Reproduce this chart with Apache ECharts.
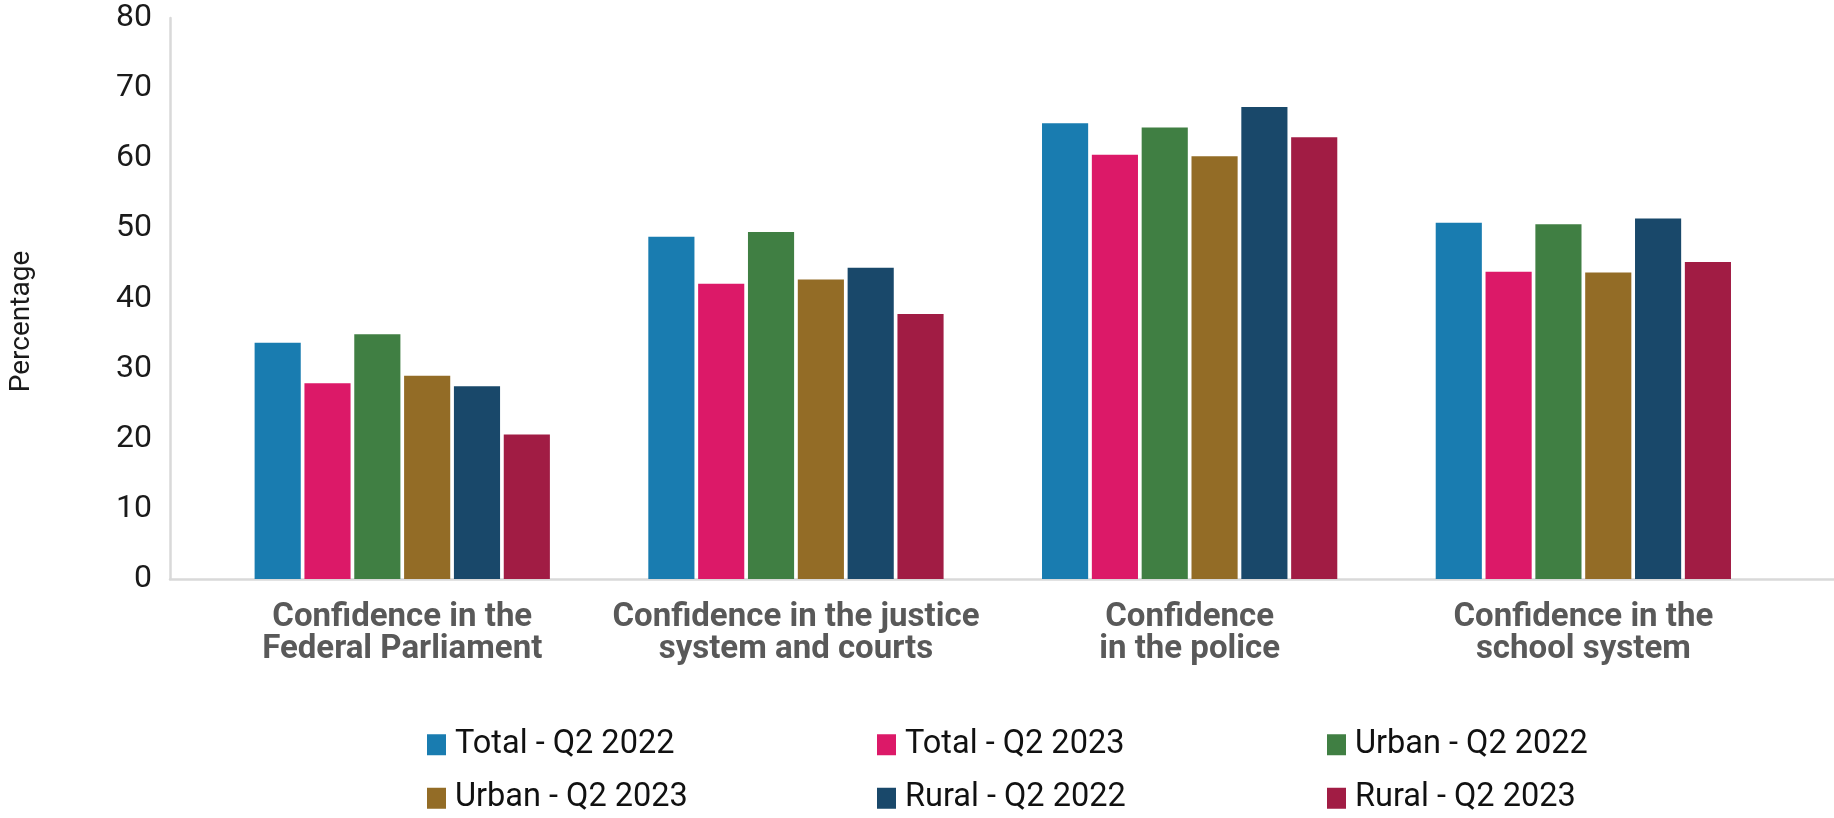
<!DOCTYPE html>
<html>
<head>
<meta charset="utf-8">
<script src="https://cdn.jsdelivr.net/npm/echarts@6/dist/echarts.min.js"></script>
<style>
html,body{margin:0;padding:0;background:#fff;}
#chart{width:1834px;height:818px;}
</style>
</head>
<body>
<div id="chart"></div>
<script>
const categories = [
  'Confidence in the\nFederal Parliament',
  'Confidence in the justice\nsystem and courts',
  'Confidence\nin the police',
  'Confidence in the\nschool system'
];
const seriesNames = ['Total - Q2 2022','Total - Q2 2023','Urban - Q2 2022','Urban - Q2 2023','Rural - Q2 2022','Rural - Q2 2023'];
const totalQ2_2022 = [33.7, 48.8, 65.0, 50.8];
const totalQ2_2023 = [27.9, 42.1, 60.5, 43.8];
const urbanQ2_2022 = [34.9, 49.5, 64.4, 50.6];
const urbanQ2_2023 = [29.0, 42.7, 60.3, 43.7];
const ruralQ2_2022 = [27.5, 44.4, 67.3, 51.4];
const ruralQ2_2023 = [20.6, 37.8, 63.0, 45.2];
const yTicks = {min: 0, max: 80, interval: 10};

const colors = ['#197CB0','#DC1968','#407F43','#936C26','#19486A','#A11C44'];
const allData = [totalQ2_2022,totalQ2_2023,urbanQ2_2022,urbanQ2_2023,ruralQ2_2022,ruralQ2_2023];

const chart = echarts.init(document.getElementById('chart'));
const font = 'Roboto';
chart.setOption({
  animation: false,
  color: colors,
  grid: [
    {left: 205.4, right: 53.8, top: 18, bottom: 239},
    {left: 165, right: 0, top: 18, bottom: 239}
  ],
  legend: {
    data: seriesNames,
    left: 427, top: 728, width: 1380,
    padding: 0,
    itemGap: 20,
    itemWidth: 19, itemHeight: 21,
    icon: 'rect',
    textStyle: {fontFamily: font, fontSize: 32.5, color: '#111', width: 402, lineHeight: 33.5, padding: [0,0,0,4]}
  },
  xAxis: [
    {
      type: 'category', gridIndex: 0, data: categories,
      axisLine: {show: false}, axisTick: {show: false},
      axisLabel: {interval: 0, fontFamily: font, fontSize: 33, fontWeight: 'bold', color: '#595959', lineHeight: 32, margin: 23}
    },
    {
      type: 'value', gridIndex: 1, min: 0, max: 1,
      axisLine: {show: true, lineStyle: {color: '#D9D9D9', width: 2.5}},
      axisTick: {show: false}, axisLabel: {show: false}, splitLine: {show: false}
    }
  ],
  yAxis: [
    {
      type: 'value', gridIndex: 0, min: yTicks.min, max: yTicks.max, interval: yTicks.interval,
      show: false
    },
    {
      type: 'value', gridIndex: 1, min: yTicks.min, max: yTicks.max, interval: yTicks.interval,
      axisLine: {show: true, lineStyle: {color: '#D9D9D9', width: 2.5}},
      axisTick: {show: false}, splitLine: {show: false},
      axisLabel: {fontFamily: font, fontSize: 32, color: '#1a1a1a', margin: 18},
      name: 'Percentage', nameLocation: 'middle', nameGap: 134, nameRotate: 90,
      nameTextStyle: {fontFamily: font, fontSize: 28, color: '#1a1a1a', padding: [0, 46, 0, 0]}
    }
  ],
  series: seriesNames.map((n, i) => ({
    name: n, type: 'bar', xAxisIndex: 0, yAxisIndex: 0,
    data: allData[i],
    barCategoryGap: '25%', barGap: '8%',
    itemStyle: {color: colors[i]}
  }))
});
</script>
</body>
</html>
